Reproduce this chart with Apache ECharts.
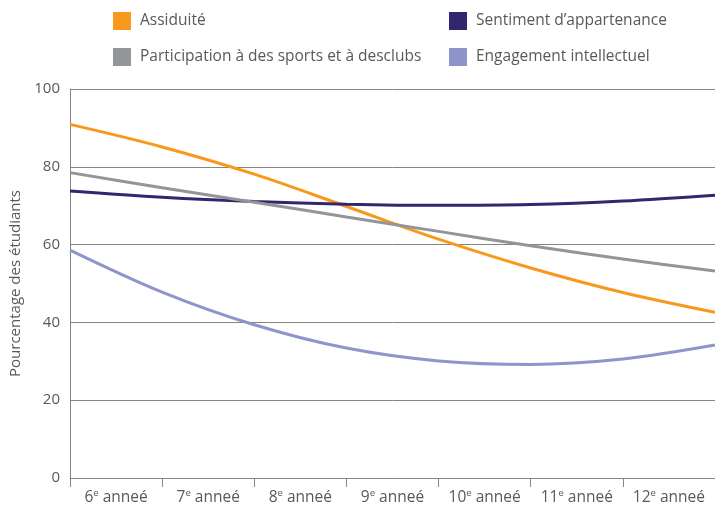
<!DOCTYPE html>
<html>
<head>
<meta charset="utf-8">
<script src="https://cdn.jsdelivr.net/npm/echarts@6/dist/echarts.min.js"></script>
<style>
  html, body { margin: 0; padding: 0; background: #fff; }
  #chart { width: 715px; height: 507px; }
</style>
</head>
<body>
<div id="chart"></div>
<script>
// Grade levels shown on the horizontal axis
const grades = ['6', '7', '8', '9', '10', '11', '12'];

// Positions (in grade units) where each trend curve is sampled: the band edges
const samplePos = [5.5, 6.5, 7.5, 8.5, 9.5, 10.5, 11.5, 12.5];

// Percentage of students along each trend curve
const assiduite     = [90.9, 85.1, 78.1, 69.8, 61.4, 54.0, 47.7, 42.6];
const sentiment     = [73.8, 72.2, 71.1, 70.4, 70.1, 70.3, 71.2, 72.7];
const participation = [78.5, 74.6, 70.9, 67.1, 63.4, 59.7, 56.3, 53.2];
const engagement    = [58.6, 47.8, 39.4, 33.4, 30.1, 29.2, 30.6, 34.2];

// Vertical axis ticks
const yTicks = [0, 20, 40, 60, 80, 100];

const seriesNames = [
  'Assiduité',
  'Sentiment d\u2019appartenance',
  'Participation à des sports et à desclubs',
  'Engagement intellectuel'
];
const seriesValues = [assiduite, sentiment, participation, engagement];
const colors = ['#f8991d', '#33266e', '#939598', '#8f95cb'];

const FONT = '"Open Sans", Lato, "Noto Sans", sans-serif';
const TEXT = '#595959';
const GRID = '#858585';

function pairs(vals) {
  return samplePos.map((x, i) => [x, vals[i]]);
}

function legendAt(name, left, top) {
  return {
    data: [name],
    left: left,
    top: top,
    icon: 'rect',
    itemWidth: 18,
    itemHeight: 18,
    selectedMode: false,
    padding: 0,
    textStyle: { color: TEXT, fontSize: 15.5, fontFamily: FONT, padding: [0, 0, 0, 4] }
  };
}

const chart = echarts.init(document.getElementById('chart'), null, { renderer: 'canvas' });

chart.setOption({
  animation: false,
  backgroundColor: '#ffffff',
  textStyle: { fontFamily: FONT },
  legend: [
    legendAt(seriesNames[0], 113, 12),
    legendAt(seriesNames[1], 449, 12),
    legendAt(seriesNames[2], 113, 48),
    legendAt(seriesNames[3], 449, 48)
  ],
  grid: { left: 70, right: 0, top: 89, bottom: 29, containLabel: false },
  xAxis: [
    {
      type: 'category',
      data: grades,
      boundaryGap: true,
      axisLine: { show: true, lineStyle: { color: GRID, width: 1 } },
      axisTick: { show: true, interval: 0, length: 9, lineStyle: { color: GRID, width: 1 } },
      axisLabel: {
        interval: 0,
        margin: 10,
        color: TEXT,
        fontFamily: FONT,
        formatter: function (v) { return '{n|' + v + '}{s|e}{n| anneé}'; },
        rich: {
          n: { fontSize: 15.5, color: TEXT, fontFamily: FONT, lineHeight: 18, verticalAlign: 'bottom' },
          s: { fontSize: 9.5, color: TEXT, fontFamily: FONT, lineHeight: 18, verticalAlign: 'top' }
        }
      },
      splitLine: { show: false }
    },
    {
      type: 'value',
      min: samplePos[0],
      max: samplePos[samplePos.length - 1],
      show: false
    }
  ],
  yAxis: {
    type: 'value',
    min: yTicks[0],
    max: yTicks[yTicks.length - 1],
    interval: yTicks[1] - yTicks[0],
    name: 'Pourcentage des étudiants',
    nameLocation: 'middle',
    nameGap: 40,
    nameTextStyle: { color: TEXT, fontSize: 15, fontFamily: FONT },
    axisLine: { show: true, lineStyle: { color: GRID, width: 1 } },
    axisTick: { show: false },
    axisLabel: { color: TEXT, fontSize: 15, fontFamily: FONT, margin: 10 },
    splitLine: { show: true, lineStyle: { color: GRID, width: 1 } }
  },
  series: seriesNames.map((name, i) => ({
    name: name,
    type: 'line',
    xAxisIndex: 1,
    data: pairs(seriesValues[i]),
    smooth: 0.34,
    showSymbol: false,
    symbol: 'none',
    color: colors[i],
    lineStyle: { color: colors[i], width: 3 },
    z: 3
  }))
});
</script>
</body>
</html>
